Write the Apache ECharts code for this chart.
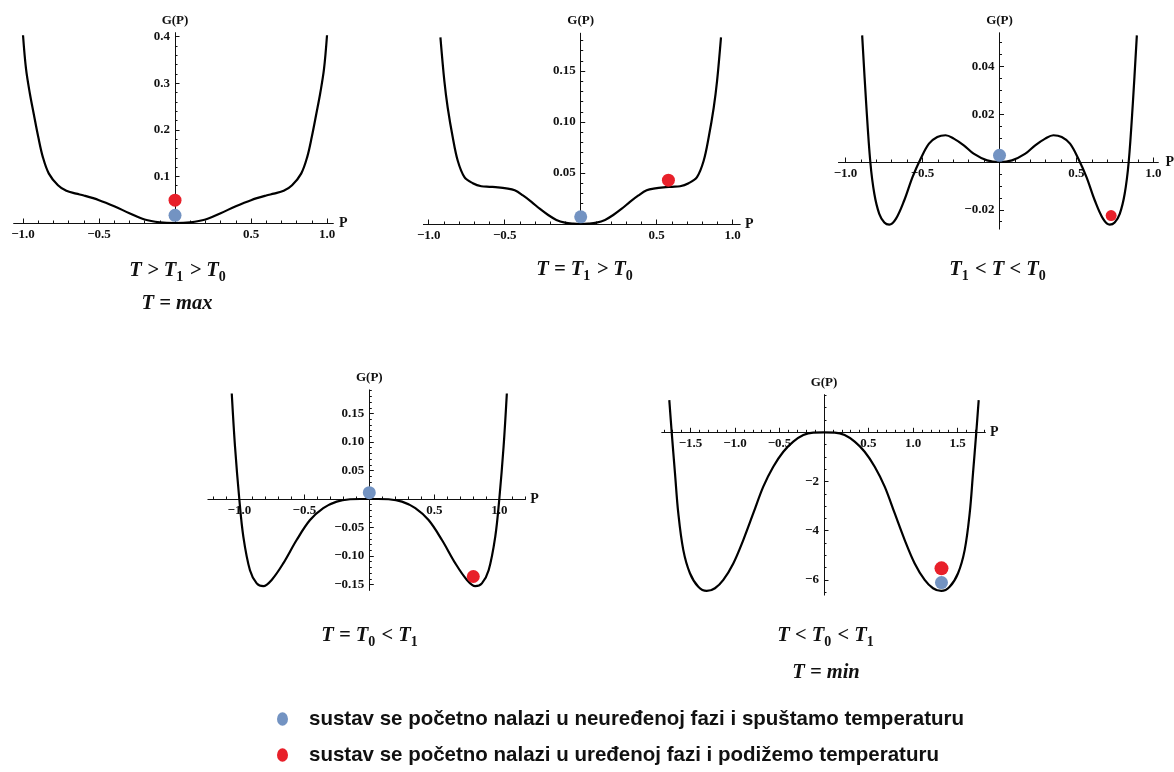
<!DOCTYPE html>
<html><head><meta charset="utf-8">
<script src="https://cdn.jsdelivr.net/npm/echarts@6/dist/echarts.min.js"></script>
<style>html,body{margin:0;padding:0;background:#fff}#c{width:1174px;height:772px}</style>
</head><body><div id="c"></div>
<script>
// ---------- data ----------
// Panel 1 : T > T1 > T0, T = max
const p1P = [-1.0,-0.98,-0.955,-0.93,-0.9,-0.87,-0.83,-0.77,-0.715,-0.65,-0.6,-0.5,-0.4,-0.3,-0.2,-0.1,0,0.1,0.2,0.3,0.4,0.5,0.6,0.65,0.715,0.77,0.83,0.87,0.9,0.93,0.955,0.98,1.0];
const p1G = [0.403,0.33,0.278,0.235,0.185,0.142,0.106,0.081,0.069,0.063,0.059,0.049,0.036,0.021,0.0075,0.0015,0,0.0015,0.0075,0.021,0.036,0.049,0.059,0.063,0.069,0.081,0.106,0.142,0.185,0.235,0.278,0.33,0.403];
const p1Blue = [0, 0.0165];
const p1Red = [0, 0.049];
const p1XTicks = [-1.0,-0.5,0.5,1.0];
const p1YTicks = [0.1,0.2,0.3,0.4];

// Panel 2 : T = T1 > T0
const p2P = [-0.923,-0.897,-0.875,-0.842,-0.809,-0.765,-0.71,-0.654,-0.6,-0.545,-0.49,-0.434,-0.38,-0.324,-0.27,-0.214,-0.16,-0.104,-0.05,0,0.05,0.104,0.16,0.214,0.27,0.324,0.38,0.434,0.49,0.545,0.6,0.654,0.71,0.765,0.809,0.842,0.875,0.897,0.923];
const p2G = [0.183,0.14,0.114,0.085,0.062,0.046,0.04,0.037,0.0365,0.036,0.035,0.033,0.028,0.0217,0.015,0.0088,0.004,0.0013,0.0003,0,0.0003,0.0013,0.004,0.0088,0.015,0.0217,0.028,0.033,0.035,0.036,0.0365,0.037,0.04,0.046,0.062,0.085,0.114,0.14,0.183];
const p2Blue = [0, 0.007];
const p2Red = [0.577, 0.043];
const p2XTicks = [-1.0,-0.5,0.5,1.0];
const p2YTicks = [0.05,0.10,0.15];

// Panel 3 : T1 < T < T0
const p3P = [-0.892,-0.866,-0.839,-0.813,-0.781,-0.748,-0.716,-0.673,-0.619,-0.565,-0.512,-0.458,-0.404,-0.35,-0.297,-0.232,-0.168,-0.081,0,0.081,0.168,0.232,0.297,0.35,0.404,0.458,0.512,0.565,0.619,0.673,0.716,0.748,0.781,0.813,0.839,0.866,0.892];
const p3G = [0.053,0.0246,0,-0.0133,-0.0217,-0.0253,-0.0262,-0.0238,-0.0161,-0.0063,0.0014,0.0077,0.0105,0.0112,0.0098,0.007,0.0035,0.0007,0,0.0007,0.0035,0.007,0.0098,0.0112,0.0105,0.0077,0.0014,-0.0063,-0.0161,-0.0238,-0.0262,-0.0253,-0.0217,-0.0133,0,0.0246,0.053];
const p3Blue = [0, 0.0028];
const p3Red = [0.725, -0.0224];
const p3XTicks = [-1.0,-0.5,0.5,1.0];
const p3YTicks = [-0.02,0.02,0.04];

// Panel 4 : T = T0 < T1
const p4P = [-1.058,-1.033,-1.0,-0.969,-0.918,-0.866,-0.815,-0.751,-0.662,-0.559,-0.456,-0.354,-0.251,-0.148,-0.07,0,0.07,0.148,0.251,0.354,0.456,0.559,0.662,0.751,0.815,0.866,0.918,0.969,1.0,1.033,1.058];
const p4G = [0.185,0.092,0,-0.066,-0.125,-0.148,-0.153,-0.142,-0.113,-0.072,-0.037,-0.016,-0.0047,-0.0005,0,0,0,-0.0005,-0.0047,-0.016,-0.037,-0.072,-0.113,-0.142,-0.153,-0.148,-0.125,-0.066,0,0.092,0.185];
const p4Blue = [0, 0.011];
const p4Red = [0.80, -0.136];
const p4XTicks = [-1.0,-0.5,0.5,1.0];
const p4YTicks = [-0.15,-0.10,-0.05,0.05,0.10,0.15];

// Panel 5 : T < T0 < T1, T = min
const p5P = [-1.738,-1.711,-1.674,-1.637,-1.581,-1.506,-1.412,-1.318,-1.225,-1.131,-1.019,-0.907,-0.794,-0.682,-0.57,-0.457,-0.345,-0.232,-0.12,0,0.12,0.232,0.345,0.457,0.57,0.682,0.794,0.907,1.019,1.131,1.225,1.318,1.412,1.506,1.581,1.637,1.674,1.711,1.738];
const p5G = [1.31,0,-1.67,-3.29,-4.78,-5.73,-6.28,-6.45,-6.34,-6.0,-5.33,-4.38,-3.29,-2.21,-1.4,-0.79,-0.38,-0.11,-0.01,0,-0.01,-0.11,-0.38,-0.79,-1.4,-2.21,-3.29,-4.38,-5.33,-6.0,-6.34,-6.45,-6.28,-5.73,-4.78,-3.29,-1.67,0,1.31];
const p5Blue = [1.32, -6.11];
const p5Red = [1.32, -5.53];
const p5XTicks = [-1.5,-1.0,-0.5,0.5,1.0,1.5];
const p5YTicks = [-6,-4,-2];

// panel captions ({t|...} normal math text, {s|...} subscript)
const titles = [
  {text:'{t|T > T}{s|1}{t| > T}{s|0}', x:178, y:271},
  {text:'{t|T = max}', x:177, y:304},
  {text:'{t|T = T}{s|1}{t| > T}{s|0}', x:585, y:270},
  {text:'{t|T}{s|1}{t| < T < T}{s|0}', x:998, y:270},
  {text:'{t|T = T}{s|0}{t| < T}{s|1}', x:370, y:636},
  {text:'{t|T < T}{s|0}{t| < T}{s|1}', x:826, y:636},
  {text:'{t|T = min}', x:826, y:673}
];
const BLUE_NAME = 'sustav se početno nalazi u neuređenoj fazi i spuštamo temperaturu';
const RED_NAME = 'sustav se početno nalazi u uređenoj fazi i podižemo temperaturu';

// ---------- layout / style ----------
const BLUE = '#7393c2', RED = '#e8202a', INK = '#111';
const SERIF = '"Liberation Serif", "DejaVu Serif", serif';
function steps(a, b, s) { const out = []; const n = Math.round((b - a) / s); for (let k = 0; k <= n; k++) out.push(+(a + k * s).toFixed(6)); return out; }

const panels = [
  {P:p1P, G:p1G, blue:p1Blue, red:p1Red, xt:p1XTicks, yt:p1YTicks, yDec:1, xr:[-1.06,1.04], yr:[0,0.408], xm:steps(-1.0,1.0,0.1), ym:steps(0,0.4,0.02), rect:[13.9,32.9,319.2,190.1], redSize:13},
  {P:p2P, G:p2G, blue:p2Blue, red:p2Red, xt:p2XTicks, yt:p2YTicks, yDec:2, xr:[-1.035,1.048], yr:[0,0.187], xm:steps(-1.0,1.0,0.1), ym:steps(0,0.18,0.01), rect:[423.4,33.3,316.6,190.7], redSize:13},
  {P:p3P, G:p3G, blue:p3Blue, red:p3Red, xt:p3XTicks, yt:p3YTicks, yDec:2, xr:[-1.045,1.03], yr:[-0.028,0.054], xm:steps(-1.0,1.0,0.1), ym:steps(-0.025,0.05,0.005), rect:[838.6,33,319.5,195.9], redSize:11},
  {P:p4P, G:p4G, blue:p4Blue, red:p4Red, xt:p4XTicks, yt:p4YTicks, yDec:2, xr:[-1.24,1.2], yr:[-0.16,0.191], xm:steps(-1.2,1.2,0.1), ym:steps(-0.15,0.19,0.01), rect:[208.1,390.1,317.2,200.1], redSize:13},
  {P:p5P, G:p5G, blue:p5Blue, red:p5Red, xt:p5XTicks, yt:p5YTicks, yDec:0, xr:[-1.82,1.81], yr:[-6.61,1.52], xm:steps(-1.8,1.8,0.1), ym:steps(-6.5,1.5,0.5), rect:[662,394.9,323.1,200], redSize:14}
];

function fmt(v, d) { return (v < 0 ? '\u2212' : '') + Math.abs(v).toFixed(d); }
const labelStyle = {fontFamily: SERIF, fontWeight: 'bold', fontSize: 13, color: INK};

const grid = [], xAxis = [], yAxis = [], series = [];
panels.forEach((p, i) => {
  grid.push({left: p.rect[0], top: p.rect[1], width: p.rect[2], height: p.rect[3], containLabel: false, outerBoundsMode: 'none'});
  // move the axes onto the zero lines of the other axis (Mathematica style crossing axes)
  const xOff = -p.rect[3] * (0 - p.yr[0]) / (p.yr[1] - p.yr[0]);
  const yOff = -p.rect[2] * (0 - p.xr[0]) / (p.xr[1] - p.xr[0]);
  const line = {onZero: false, lineStyle: {color: INK, width: 1}};
  // x major
  xAxis.push({type: 'value', gridIndex: i, position: 'bottom', offset: xOff, min: p.xr[0], max: p.xr[1],
    axisLine: line,
    axisTick: {inside: true, length: 4.5, customValues: p.xt, lineStyle: {color: INK, width: 1}},
    axisLabel: Object.assign({customValues: p.xt, margin: 5, formatter: v => fmt(v, 1)}, labelStyle),
    splitLine: {show: false},
    name: 'P', nameLocation: 'end', nameGap: 5,
    nameTextStyle: {fontFamily: SERIF, fontWeight: 'bold', fontSize: 14, color: INK}, z: 3});
  // x minor
  xAxis.push({type: 'value', gridIndex: i, position: 'bottom', offset: xOff, min: p.xr[0], max: p.xr[1],
    axisLine: line,
    axisTick: {inside: true, length: 2.5, customValues: p.xm, lineStyle: {color: INK, width: 1}},
    axisLabel: {show: false}, splitLine: {show: false}, z: 3});
  // y major
  yAxis.push({type: 'value', gridIndex: i, position: 'left', offset: yOff, min: p.yr[0], max: p.yr[1],
    axisLine: line,
    axisTick: {inside: true, length: 4.5, customValues: p.yt, lineStyle: {color: INK, width: 1}},
    axisLabel: Object.assign({customValues: p.yt, margin: 5, formatter: v => fmt(v, p.yDec)}, labelStyle),
    splitLine: {show: false},
    name: 'G(P)', nameLocation: 'end', nameGap: 6,
    nameTextStyle: {fontFamily: SERIF, fontWeight: 'bold', fontSize: 13, color: INK}, z: 3});
  // y minor
  yAxis.push({type: 'value', gridIndex: i, position: 'left', offset: yOff, min: p.yr[0], max: p.yr[1],
    axisLine: line,
    axisTick: {inside: true, length: 2.5, customValues: p.ym, lineStyle: {color: INK, width: 1}},
    axisLabel: {show: false}, splitLine: {show: false}, z: 3});

  series.push({type: 'line', xAxisIndex: 2 * i, yAxisIndex: 2 * i, showSymbol: false, smooth: 0.35,
    data: p.P.map((x, k) => [x, p.G[k]]), lineStyle: {color: '#000', width: 2.2}, itemStyle: {color: '#000'},
    silent: true, z: 4});
  series.push({type: 'scatter', name: RED_NAME, xAxisIndex: 2 * i, yAxisIndex: 2 * i, data: [p.red],
    symbolSize: p.redSize, itemStyle: {color: RED, opacity: 1}, z: 5});
  series.push({type: 'scatter', name: BLUE_NAME, xAxisIndex: 2 * i, yAxisIndex: 2 * i, data: [p.blue],
    symbolSize: 13, itemStyle: {color: BLUE, opacity: 1}, z: 6});
});

const ellipse = 'path://M50,0 A50,62 0 1,1 50,124 A50,62 0 1,1 50,0 Z';
const legendText = {fontFamily: '"Liberation Sans", Arial, sans-serif', fontSize: 20.5, fontWeight: 'bold', color: INK, padding: [0, 0, 0, 16], lineHeight: 22};
const richTitle = {
  t: {fontFamily: SERIF, fontStyle: 'italic', fontWeight: 'bold', fontSize: 20.5, lineHeight: 22, verticalAlign: 'middle', color: INK},
  s: {fontFamily: SERIF, fontStyle: 'normal', fontWeight: 'bold', fontSize: 14, lineHeight: 14, padding: [12, 1, 0, 0], verticalAlign: 'middle', color: INK}
};
const option = {
  backgroundColor: '#fff',
  animation: false,
  grid, xAxis, yAxis, series,
  legend: [
    {orient: 'vertical', left: 272, top: 703, itemWidth: 11, itemHeight: 14, selectedMode: false,
      data: [{name: BLUE_NAME, icon: ellipse}], textStyle: legendText},
    {orient: 'vertical', left: 272, top: 739, itemWidth: 11, itemHeight: 14, selectedMode: false,
      data: [{name: RED_NAME, icon: ellipse}], textStyle: legendText}
  ],
  graphic: titles.map(t => ({type: 'text', x: t.x, y: t.y, silent: true,
    style: {text: t.text, rich: richTitle, fill: INK,
      textAlign: 'center', align: 'center', textVerticalAlign: 'middle', verticalAlign: 'middle'}}))
};
const chart = echarts.init(document.getElementById('c'), null, {renderer: 'canvas'});
chart.setOption(option);
</script>
</body></html>
